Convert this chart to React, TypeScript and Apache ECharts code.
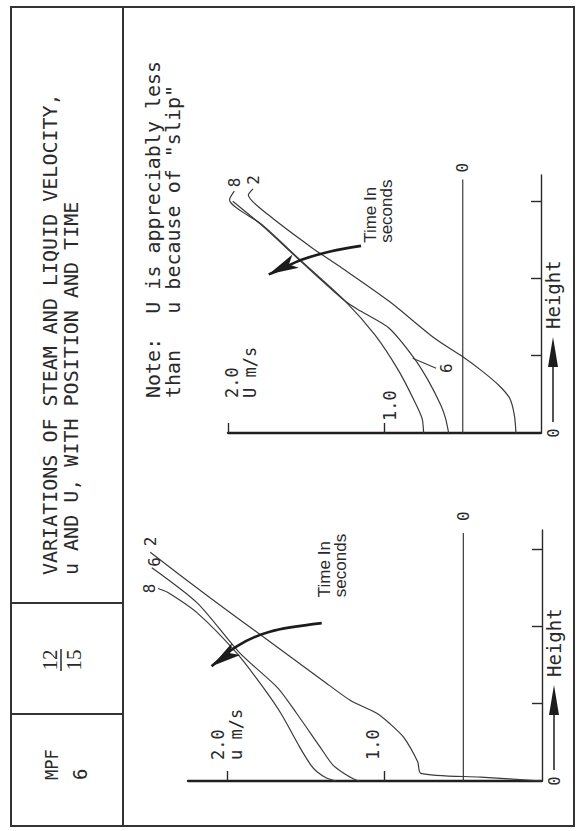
import { useEffect, useRef } from 'react';
import * as echarts from 'echarts';

// ---------- data (height in axis-tick units, velocity in m/s) ----------
// Liquid velocity u, left panel
const liquidT0: number[][] = [[0, 0.5], [3.22, 0.5]];
const liquidT2: number[][] = [[0, 0], [0.05, 0.39], [0.10, 0.77], [0.25, 0.79], [0.57, 0.88], [0.75, 0.97], [0.88, 1.05], [1.05, 1.22], [1.30, 1.39], [1.87, 1.77], [2.38, 2.11], [2.97, 2.49]];
const liquidT6: number[][] = [[0, 1.16], [0.03, 1.20], [0.10, 1.26], [0.21, 1.33], [0.44, 1.41], [0.88, 1.56], [1.21, 1.68], [1.66, 1.92], [2.31, 2.19], [2.77, 2.48]];
const liquidT8: number[][] = [[0, 1.31], [0.04, 1.37], [0.12, 1.43], [0.21, 1.47], [0.44, 1.54], [0.88, 1.66], [1.21, 1.77], [1.66, 1.94], [2.18, 2.19], [2.45, 2.38], [2.50, 2.44]];
const liquidTimeArrow: number[][] = [[2.05, 1.40], [1.94, 1.73], [1.75, 1.94], [1.49, 2.10]];

// Steam velocity U, right panel
const steamT0: number[][] = [[0, 0.5], [3.29, 0.5]];
const steamT2: number[][] = [[0, 0.16], [0.23, 0.17], [0.45, 0.20], [0.62, 0.27], [0.81, 0.38], [0.99, 0.50], [1.23, 0.68], [1.71, 0.97], [2.14, 1.27], [2.40, 1.46], [2.83, 1.74], [3.09, 1.87], [3.17, 1.84]];
const steamT6: number[][] = [[0, 0.59], [0.19, 0.61], [0.36, 0.64], [0.68, 0.72], [0.97, 0.81], [1.36, 0.97], [1.58, 1.15], [1.71, 1.25], [2.22, 1.53], [2.69, 1.78], [3.01, 1.97]];
const steamT8: number[][] = [[0, 0.75], [0.19, 0.76], [0.42, 0.81], [0.81, 0.91], [1.27, 1.06], [1.71, 1.25], [2.23, 1.53], [2.70, 1.78], [3.03, 1.99], [3.14, 1.96]];
const steamLeader6: number[][] = [[0.97, 0.82], [0.84, 0.67]];
const steamTimeArrow: number[][] = [[2.43, 1.15], [2.36, 1.34], [2.25, 1.53], [2.12, 1.67], [2.06, 1.74]];

// ticks and labels
const heightTicks = [1, 2, 3];
const heightLabelValues = [0];
const velocityTicks = [1, 2];
const timeLabels = { t0: '0', t2: '2', t6: '6', t8: '8' };
const timeCaption = 'Time In\nseconds';
const heightName = 'Height';
const titleLines = ['VARIATIONS OF STEAM AND LIQUID VELOCITY,', 'u AND U, WITH POSITION AND TIME'];
const noteLines = ['Note:  U is appreciably less', 'than   u because of "slip"'];
const docCode = ['MPF', '6'];
const pageFraction = ['12', '15'];

// ---------- styling / layout ----------
const INK = '#2a2a2a';
const MONO = '"DejaVu Sans Mono", monospace';
const SANS = '"Liberation Sans", Arial, sans-serif';
const SERIF = '"Liberation Serif", serif';
const FW = 831;
const FH = 581;
const LIQ = { left: 50, top: 188, width: 251, height: 354, hMax: 3.26, vMax: 2.25 };
const STM = { left: 398, top: 228, width: 258, height: 313, hMax: 3.35, vMax: 2.0 };

function curve(data: number[][], g: number, text: string | null, lab: any = {}) {
  const last = data.length - 1;
  return {
    type: 'line',
    xAxisIndex: g,
    yAxisIndex: g,
    smooth: 0.25,
    clip: false,
    silent: true,
    symbol: 'circle',
    symbolSize: 0.01,
    showSymbol: true,
    showAllSymbol: true,
    lineStyle: { color: '#3a3a3a', width: 1.2 },
    itemStyle: { color: '#3a3a3a' },
    label: { show: false, color: INK, fontFamily: MONO, fontSize: 16 },
    data: data.map((p, i) =>
      i === last && text
        ? { value: p, label: { show: true, formatter: text, position: 'right', distance: 4, ...lab } }
        : p
    ),
  };
}

function arrow(data: number[][], g: number, rot: number, dist: number, off: number[]) {
  const last = data.length - 1;
  return {
    type: 'line',
    xAxisIndex: g,
    yAxisIndex: g,
    smooth: 0.3,
    clip: false,
    silent: true,
    symbol: 'circle',
    symbolSize: 0.01,
    showSymbol: true,
    showAllSymbol: true,
    lineStyle: { color: '#1c1c1c', width: 2.6 },
    itemStyle: { color: '#1c1c1c' },
    data: data.map((p, i) => {
      if (i === last) return { value: p, symbol: 'arrow', symbolSize: [11, 30], symbolRotate: rot };
      if (i === 0)
        return {
          value: p,
          label: {
            show: true,
            formatter: timeCaption,
            position: 'right',
            distance: dist,
            offset: off,
            align: 'left',
            color: INK,
            fontFamily: SANS,
            fontSize: 17,
            lineHeight: 16,
          },
        };
      return p;
    }),
  };
}

function xAxisFor(g: number, max: number) {
  return {
    type: 'value',
    gridIndex: g,
    min: 0,
    max,
    splitLine: { show: false },
    axisLine: { show: true, onZero: false, lineStyle: { color: INK, width: 1.4 } },
    axisTick: { show: true, inside: true, length: 10, customValues: heightTicks, lineStyle: { color: INK, width: 1.4 } },
    axisLabel: {
      show: true,
      customValues: heightLabelValues,
      formatter: () => '0',
      margin: 5,
      color: INK,
      fontFamily: MONO,
      fontSize: 15,
    },
  };
}

function yAxisFor(g: number, max: number, steam: boolean) {
  const base = { color: INK, fontFamily: MONO, fontSize: 17, lineHeight: 18 };
  return {
    type: 'value',
    gridIndex: g,
    min: 0,
    max,
    splitLine: { show: false },
    axisLine: { show: true, onZero: false, lineStyle: { color: '#1f1f1f', width: 2.3 } },
    axisTick: { show: true, inside: true, length: 10, customValues: velocityTicks, lineStyle: { color: INK, width: 1.4 } },
    axisLabel: {
      show: true,
      inside: true,
      customValues: velocityTicks,
      margin: steam ? 12 : 21,
      align: 'left',
      verticalAlign: 'middle',
      ...base,
      formatter: (v: number) =>
        steam
          ? v === 1
            ? '{a|1.0}'
            : '{s| }\n{b|2.0}\n{b|U m/s}'
          : v === 1
          ? '{d|1.0}'
          : '{e|2.0}\n{e|u m/s}',
      rich: {
        a: { ...base, padding: [11, 0, 0, 0] },
        s: { ...base, lineHeight: 26 },
        b: { ...base, padding: [0, 0, 0, 23] },
        d: { ...base, padding: [0, 0, 23, 0] },
        e: { ...base },
      },
    },
  };
}

function txt(x: number, y: number, text: string, fontSize: number, fontFamily: string, align = 'left') {
  return {
    type: 'text',
    x,
    y,
    silent: true,
    style: {
      text,
      fill: INK,
      fontSize,
      fontFamily,
      align,
      textAlign: align,
      verticalAlign: 'middle',
      textVerticalAlign: 'middle',
    },
  };
}

function heightArrow(ox: number, oy: number) {
  return [
    { type: 'line', silent: true, shape: { x1: ox + 11, y1: oy + 12, x2: ox + 68, y2: oy + 12 }, style: { stroke: INK, lineWidth: 1.6 } },
    { type: 'polygon', silent: true, shape: { points: [[ox + 66, oy + 7], [ox + 96, oy + 12], [ox + 66, oy + 17]] }, style: { fill: '#1c1c1c' } },
    txt(ox + 104, oy + 12, heightName, 19, MONO),
  ];
}

export default function App() {
  const ref = useRef<HTMLDivElement>(null);
  useEffect(() => {
    if (!ref.current) return;
    const chart = echarts.init(ref.current, null, { renderer: 'svg' });
    const line = (x1: number, y1: number, x2: number, y2: number) => ({
      type: 'line',
      silent: true,
      shape: { x1, y1, x2, y2 },
      style: { stroke: '#333', lineWidth: 2 },
    });
    chart.setOption({
      animation: false,
      backgroundColor: '#ffffff',
      grid: [
        { left: LIQ.left, top: LIQ.top, width: LIQ.width, height: LIQ.height, containLabel: false },
        { left: STM.left, top: STM.top, width: STM.width, height: STM.height, containLabel: false },
      ],
      xAxis: [xAxisFor(0, LIQ.hMax), xAxisFor(1, STM.hMax)],
      yAxis: [yAxisFor(0, LIQ.vMax, false), yAxisFor(1, STM.vMax, true)],
      series: [
        curve(liquidT0, 0, timeLabels.t0, { distance: 12 }),
        curve(liquidT2, 0, timeLabels.t2, { distance: 6 }),
        curve(liquidT6, 0, timeLabels.t6, { distance: 1, offset: [0, 3] }),
        curve(liquidT8, 0, timeLabels.t8, { position: 'top', distance: 1 }),
        arrow(liquidTimeArrow, 0, 35, 26, [0, 11]),
        curve(steamT0, 1, timeLabels.t0, { distance: 7 }),
        curve(steamT2, 1, timeLabels.t2, { distance: 4 }),
        curve(steamT6, 1, null),
        curve(steamT8, 1, timeLabels.t8, { distance: 4 }),
        curve(steamLeader6, 1, timeLabels.t6, { position: 'bottom', distance: 2 }),
        arrow(steamTimeArrow, 1, 26, 3, [0, 17]),
      ],
      graphic: {
        elements: [
          { type: 'rect', silent: true, shape: { x: 5, y: 11, width: 819, height: 563 }, style: { fill: 'none', stroke: '#333', lineWidth: 2 } },
          line(5, 123, 824, 123),
          line(117, 11, 117, 123),
          line(228, 11, 228, 123),
          txt(256, 50, titleLines[0], 20, MONO),
          txt(256, 71, titleLines[1], 20, MONO),
          txt(171, 50, pageFraction[0], 21, SERIF, 'center'),
          { type: 'line', silent: true, shape: { x1: 160, y1: 61, x2: 182, y2: 61 }, style: { stroke: INK, lineWidth: 1.5 } },
          txt(171, 74, pageFraction[1], 21, SERIF, 'center'),
          txt(51, 52, docCode[0], 17, MONO),
          txt(51, 80, docCode[1], 19, MONO),
          txt(433, 153, noteLines[0], 20, MONO),
          txt(433, 173, noteLines[1], 20, MONO),
          ...heightArrow(LIQ.left, LIQ.top + LIQ.height),
          ...heightArrow(STM.left, STM.top + STM.height),
        ],
      },
    });
    return () => chart.dispose();
  }, []);

  return (
    <div style={{ position: 'absolute', left: 0, top: 0, width: FH, height: FW, overflow: 'hidden', background: '#fff' }}>
      <div
        ref={ref}
        style={{
          position: 'absolute',
          left: 0,
          top: 0,
          width: FW,
          height: FH,
          transformOrigin: '0 0',
          transform: `translateY(${FW}px) rotate(-90deg)`,
        }}
      />
    </div>
  );
}
